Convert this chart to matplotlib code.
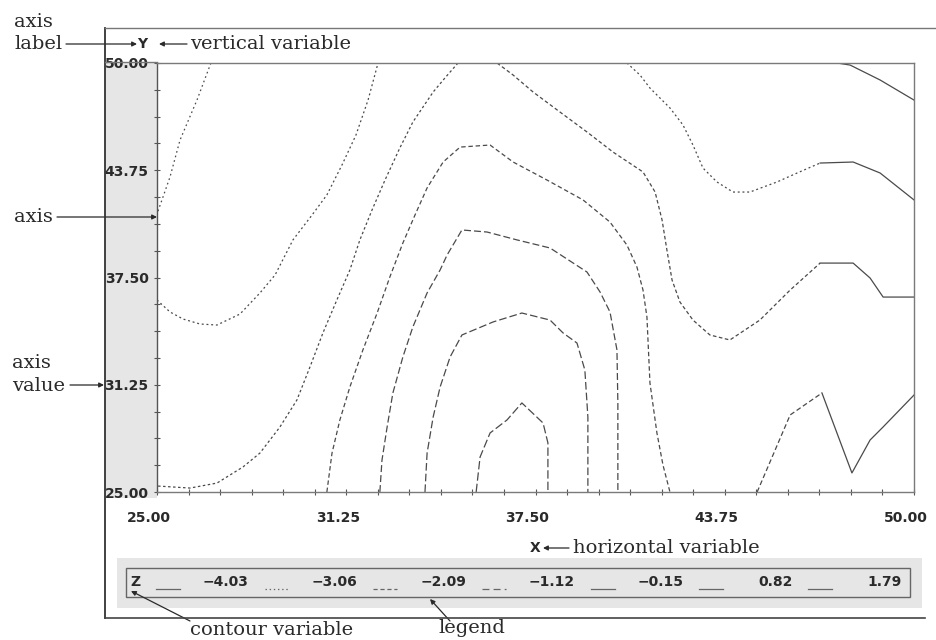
import matplotlib.pyplot as plt
import numpy as np
from matplotlib.patches import Rectangle, FancyArrowPatch
from matplotlib.lines import Line2D
from matplotlib.ticker import MultipleLocator
from matplotlib.transforms import ScaledTranslation

plt.rcParams['lines.scale_dashes'] = False

W, H = 937, 640

# contour levels of Z (legend)
levels = [-4.03, -3.06, -2.09, -1.12, -0.15, 0.82, 1.79]

x_ticks = [25.00, 31.25, 37.50, 43.75, 50.00]
y_ticks = [25.00, 31.25, 37.50, 43.75, 50.00]
tick_labels = ['25.00', '31.25', '37.50', '43.75', '50.00']

# contour paths (X, Y)
z403_left_x = [26.78, 26.32, 25.76, 25.43, 25.00]
z403_left_y = [50.00, 47.84, 45.51, 43.36, 41.20]

z403_right_x = [47.46, 47.89, 48.88, 50.00]
z403_right_y = [50.00, 49.88, 49.01, 47.84]

z306_left_x = [25.00, 25.43, 25.86, 26.42, 26.98, 27.74, 28.40, 28.90, 29.49, 30.12,
               30.61, 31.11, 31.57, 31.97, 32.30]
z306_left_y = [36.19, 35.49, 35.08, 34.79, 34.73, 35.37, 36.60, 37.65, 39.69, 41.14,
               42.31, 44.06, 45.80, 47.84, 50.00]

z306_right_x = [40.52, 40.95, 41.28, 41.94, 42.37, 42.70, 43.03, 43.49, 44.02, 44.58,
                45.48, 46.14, 46.90, 47.99, 48.88, 50.00]
z306_right_y = [50.00, 49.30, 48.54, 47.38, 46.39, 45.22, 43.88, 43.07, 42.48, 42.48,
                43.07, 43.59, 44.17, 44.23, 43.59, 42.02]

z209_left_x = [34.94, 34.51, 34.12, 33.45, 33.02, 32.53, 32.10, 31.70, 31.37, 30.94,
               30.48, 30.05, 29.62, 29.06, 28.40, 27.84, 26.98, 26.09, 25.00]
z209_left_y = [50.00, 49.13, 48.31, 46.56, 45.05, 43.18, 41.43, 39.69, 37.94, 36.19,
               34.27, 32.28, 30.36, 28.79, 27.27, 26.46, 25.52, 25.23, 25.35]

z209_right_x = [36.23, 36.76, 37.42, 38.31, 39.20, 40.06, 41.05, 41.45, 41.68, 41.84,
                42.01, 42.27, 42.70, 43.26, 43.92, 44.91, 45.91, 46.90, 47.99, 48.55,
                48.98, 50.00]
z209_right_y = [50.00, 49.30, 48.31, 47.14, 45.98, 44.81, 43.65, 42.48, 40.85, 39.10,
                37.35, 36.07, 35.02, 34.15, 33.86, 35.02, 36.77, 38.34, 38.34, 37.47,
                36.36, 36.36]

z209_corner_x = [44.82, 45.91, 46.96, 47.95, 48.55, 48.98, 50.00]
z209_corner_y = [25.00, 29.49, 30.77, 26.11, 28.03, 28.79, 30.65]

z112_x = [30.61, 30.78, 31.04, 31.37, 31.80, 32.27, 32.69, 33.12, 33.52, 33.92, 34.45,
          35.01, 36.00, 36.76, 37.88, 39.07, 39.96, 40.52, 40.85, 41.05, 41.18, 41.28,
          41.51, 41.71, 41.94]
z112_y = [25.00, 27.27, 29.20, 31.12, 33.28, 35.43, 37.53, 39.51, 41.14, 42.72, 44.23,
          45.10, 45.22, 44.23, 43.18, 42.02, 40.73, 39.39, 38.11, 36.77, 35.20, 31.35,
          28.44, 26.57, 25.00]

z015_x = [32.36, 32.43, 32.60, 32.79, 33.12, 33.45, 33.92, 34.35, 34.58, 35.07, 35.90,
          36.89, 37.98, 39.20, 39.63, 39.96, 40.19, 40.22, 40.22]
z015_y = [25.00, 26.86, 28.79, 30.77, 32.87, 34.62, 36.60, 37.94, 38.81, 40.27, 40.15,
          39.69, 39.22, 37.82, 36.66, 35.49, 33.28, 30.19, 25.00]

z082_x = [33.85, 33.92, 34.12, 34.35, 34.68, 35.07, 36.10, 37.05, 37.98, 38.41, 38.87,
          39.13, 39.23, 39.23]
z082_y = [25.00, 27.27, 29.37, 31.12, 32.87, 34.15, 34.91, 35.43, 35.02, 34.27, 33.68,
          32.11, 29.37, 25.00]

z179_x = [35.54, 35.67, 36.00, 36.56, 37.05, 37.75, 37.91, 37.91]
z179_y = [25.00, 27.04, 28.44, 29.20, 30.19, 29.02, 27.86, 25.00]


def fx(px):
    return px / W


def fy(py):
    return 1 - py / H


fig = plt.figure(figsize=(W / 100, H / 100), dpi=100)
fig.patch.set_facecolor('white')

ink = '#2a2a2a'
serif = 'DejaVu Serif'

# gray band behind the y tick labels
fig.add_artist(Rectangle((fx(105), fy(498)), fx(157) - fx(105), fy(62) - fy(498),
                         transform=fig.transFigure, facecolor='#e6e6e6', edgecolor='none', zorder=0))

ax = fig.add_axes([fx(157), fy(492), fx(914) - fx(157), fy(63) - fy(492)])
ax.set_xlim(25, 50)
ax.set_ylim(25, 50)

contours = [
    (z403_left_x, z403_left_y, (1.2, 2.2), None),
    (z403_right_x, z403_right_y, None, None),
    (z306_left_x, z306_left_y, (1.4, 2.0), None),
    (z306_right_x, z306_right_y, (1.4, 2.0), 12),
    (z209_left_x, z209_left_y, (1.8, 1.8), None),
    (z209_right_x, z209_right_y, (2.6, 1.8), 17),
    (z209_corner_x, z209_corner_y, (3.5, 2.0), 2),
    (z112_x, z112_y, (3.2, 2.0), None),
    (z015_x, z015_y, (5.0, 2.2), None),
    (z082_x, z082_y, (5.5, 2.2), None),
    (z179_x, z179_y, (6.0, 2.2), None),
]
for xs, ys, dash, solid_from in contours:
    if solid_from is None:
        line, = ax.plot(xs, ys, color='#4a4a4a', lw=0.9)
        if dash:
            line.set_dashes(dash)
    else:
        line, = ax.plot(xs[:solid_from + 1], ys[:solid_from + 1], color='#4a4a4a', lw=0.9)
        line.set_dashes(dash)
        ax.plot(xs[solid_from:], ys[solid_from:], color='#4a4a4a', lw=0.9)

ax.set_xticks(x_ticks)
ax.set_yticks(y_ticks)
ax.set_xticklabels(tick_labels, fontsize=10, fontweight='bold', color=ink)
ax.set_yticklabels(tick_labels, fontsize=10, fontweight='bold', color=ink)
ax.xaxis.set_minor_locator(MultipleLocator(25 / 24))
ax.yaxis.set_minor_locator(MultipleLocator(1.5625))
ax.tick_params(axis='x', which='both', direction='inout', length=4, width=0.8, color='#555', pad=12)
ax.tick_params(axis='y', which='both', direction='inout', length=4, width=0.8, color='#555', pad=4)
for lbl in ax.get_xticklabels():
    lbl.set_transform(lbl.get_transform() + ScaledTranslation(-8 / 100, 0, fig.dpi_scale_trans))
for side in ['top', 'right', 'bottom']:
    ax.spines[side].set_color('#7a7a7a')
    ax.spines[side].set_linewidth(1.0)
ax.spines['left'].set_color('#555555')
ax.spines['left'].set_linewidth(1.0)


def hline(x0, x1, y, color='#444', lw=1.0):
    fig.add_artist(Line2D([fx(x0), fx(x1)], [fy(y), fy(y)], transform=fig.transFigure, color=color, lw=lw))


def arrow(x0, y0, x1, y1):
    fig.add_artist(FancyArrowPatch((fx(x0), fy(y0)), (fx(x1), fy(y1)), transform=fig.transFigure,
                                   arrowstyle='-|>', mutation_scale=7, lw=0.9, color=ink,
                                   shrinkA=0, shrinkB=0))


# outer frame
fig.add_artist(Line2D([fx(105), fx(105)], [fy(28), fy(618)], transform=fig.transFigure, color='#333', lw=1.3))
hline(105, 937, 28, color='#777', lw=1.0)
hline(105, 157, 62, color='#777', lw=1.0)
hline(105, 925, 618, color='#444', lw=1.2)

# legend band
fig.add_artist(Rectangle((fx(117), fy(608)), fx(922) - fx(117), fy(558) - fy(608),
                         transform=fig.transFigure, facecolor='#e6e6e6', edgecolor='none', zorder=0))
fig.add_artist(Rectangle((fx(126), fy(597)), fx(910) - fx(126), fy(568) - fy(597),
                         transform=fig.transFigure, facecolor='none', edgecolor='#666', lw=1.0))
fig.text(fx(130), fy(582), 'Z', fontsize=10, fontweight='bold', color=ink, va='center')
legend_dashes = [None, (1.0, 2.0), (3.0, 2.0), (5.0, 3.0), None, None, None]
for i, (lev, dash) in enumerate(zip(levels, legend_dashes)):
    x0 = 156 + 108.7 * i
    sample = Line2D([fx(x0), fx(x0 + 24)], [fy(589), fy(589)], transform=fig.transFigure,
                    color='#666', lw=0.9)
    if dash:
        sample.set_dashes(dash)
    fig.add_artist(sample)
    fig.text(fx(248 + 109 * i), fy(582), f'{lev:.2f}'.replace('-', '\u2212'), fontsize=10,
             fontweight='bold', color=ink, ha='right', va='center')

# annotations
fig.text(fx(14), fy(27), 'axis', family=serif, fontsize=14, color=ink, va='baseline')
fig.text(fx(14), fy(49), 'label', family=serif, fontsize=14, color=ink, va='baseline')
arrow(66, 44, 137, 44)
fig.text(fx(142), fy(44), 'Y', fontsize=10, fontweight='bold', color=ink, ha='center', va='center')
arrow(187, 44, 159, 44)
fig.text(fx(190), fy(49), 'vertical variable', family=serif, fontsize=14, color=ink, va='baseline')

fig.text(fx(14), fy(222), 'axis', family=serif, fontsize=14, color=ink, va='baseline')
arrow(57, 217, 157, 217)

fig.text(fx(12), fy(368), 'axis', family=serif, fontsize=14, color=ink, va='baseline')
fig.text(fx(12), fy(391), 'value', family=serif, fontsize=14, color=ink, va='baseline')
arrow(70, 385, 104, 385)

fig.text(fx(535), fy(548), 'X', fontsize=10, fontweight='bold', color=ink, ha='center', va='center')
arrow(569, 548, 543, 548)
fig.text(fx(573), fy(553), 'horizontal variable', family=serif, fontsize=14, color=ink, va='baseline')

fig.text(fx(190), fy(635), 'contour variable', family=serif, fontsize=14, color=ink, va='baseline')
arrow(190, 621, 131, 591)
fig.text(fx(438), fy(633), 'legend', family=serif, fontsize=14, color=ink, va='baseline')
arrow(450, 621, 430, 599)

fig.savefig('out.png', dpi=100, facecolor='white')
